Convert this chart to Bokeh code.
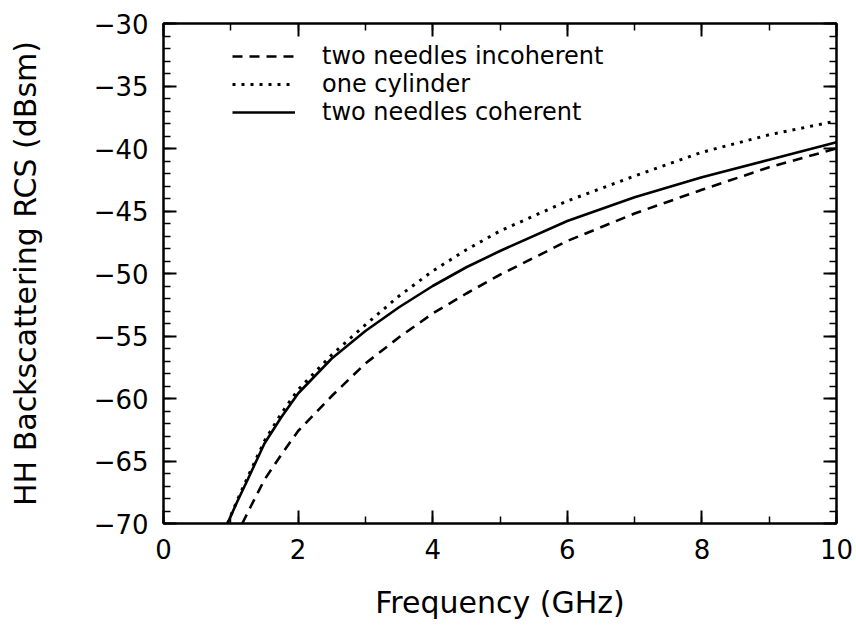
from bokeh.plotting import figure
from bokeh.models import (Range1d, LinearAxis, SingleIntervalTicker,
                          CustomJSTickFormatter, Legend, LegendItem)
from bokeh.embed import file_html
from bokeh.resources import INLINE

# ---- data ----
freq_incoherent = [1.17, 1.3, 1.5, 1.75, 2.0, 2.5, 3.0, 3.5, 4.0, 4.5, 5.0, 6.0, 7.0, 8.0, 9.0, 10.0]
rcs_incoherent = [-70.0, -68.6, -66.5, -64.5, -62.6, -59.8, -57.2, -55.1, -53.2, -51.6, -50.1, -47.4, -45.2, -43.3, -41.5, -40.0]

freq_cylinder = [0.95, 1.1, 1.25, 1.5, 1.75, 2.0, 2.5, 3.0, 3.5, 4.0, 4.5, 5.0, 6.0, 7.0, 8.0, 9.0, 10.0]
rcs_cylinder = [-70.0, -68.1, -66.3, -63.4, -61.2, -59.3, -56.5, -54.1, -51.8, -49.8, -48.1, -46.6, -44.2, -42.2, -40.3, -38.9, -37.8]

freq_coherent = [0.95, 1.1, 1.25, 1.5, 1.75, 2.0, 2.5, 3.0, 3.5, 4.0, 4.5, 5.0, 6.0, 7.0, 8.0, 9.0, 10.0]
rcs_coherent = [-70.0, -68.2, -66.5, -63.6, -61.5, -59.6, -56.8, -54.6, -52.7, -51.0, -49.5, -48.2, -45.8, -43.9, -42.3, -40.9, -39.5]

series_labels = ["two needles incoherent", "one cylinder", "two needles coherent"]
x_title = "Frequency (GHz)"
y_title = "HH Backscattering RCS (dBsm)"

FONT = "DejaVu Sans"

p = figure(width=856, height=627, output_backend="svg", toolbar_location=None,
           x_range=Range1d(0, 10), y_range=Range1d(-70, -30),
           min_border_left=163, min_border_right=20, min_border_top=23,
           min_border_bottom=104, x_axis_location=None, y_axis_location=None)
p.xgrid.visible = False
p.ygrid.visible = False
p.outline_line_color = "black"
p.outline_line_width = 2
p.background_fill_color = "white"
p.border_fill_color = "white"

fmt = CustomJSTickFormatter(code="return tick < 0 ? '\\u2212' + Math.abs(tick) : String(tick);")

def style_axis(ax, labels=True):
    ax.axis_line_color = "black"
    ax.axis_line_width = 2
    ax.major_tick_in = 13
    ax.major_tick_out = 0
    ax.minor_tick_in = 7
    ax.minor_tick_out = 0
    ax.major_tick_line_width = 2
    ax.minor_tick_line_width = 1.5
    ax.major_tick_line_color = "black"
    ax.minor_tick_line_color = "black"
    if labels:
        ax.major_label_text_font = FONT
        ax.major_label_text_font_size = "26px"
        ax.major_label_text_color = "black"
        ax.axis_label_text_font = FONT
        ax.axis_label_text_font_style = "normal"
        ax.axis_label_text_font_size = "30px"
        ax.axis_label_text_color = "black"
    else:
        ax.major_label_text_font_size = "0px"
        ax.major_label_standoff = 0

xb = LinearAxis(ticker=SingleIntervalTicker(interval=2, num_minor_ticks=2),
                formatter=fmt, axis_label=x_title)
style_axis(xb)
xb.major_label_standoff = 15
xb.axis_label_standoff = 23
p.add_layout(xb, "below")

yl = LinearAxis(ticker=SingleIntervalTicker(interval=5, num_minor_ticks=5),
                formatter=fmt, axis_label=y_title)
style_axis(yl)
yl.major_label_standoff = 15
yl.axis_label_standoff = 48
p.add_layout(yl, "left")

xt = LinearAxis(ticker=SingleIntervalTicker(interval=2, num_minor_ticks=2))
style_axis(xt, labels=False)
p.add_layout(xt, "above")

yr = LinearAxis(ticker=SingleIntervalTicker(interval=5, num_minor_ticks=5))
style_axis(yr, labels=False)
p.add_layout(yr, "right")

r_inc = p.line(freq_incoherent, rcs_incoherent, line_color="black", line_width=2.6,
               line_dash="10 7")
r_cyl = p.line(freq_cylinder, rcs_cylinder, line_color="black", line_width=3,
               line_dash="3 6")
r_coh = p.line(freq_coherent, rcs_coherent, line_color="black", line_width=2.6)

# one legend per row so each row can sit where the reference has it
for label, rend, vy in zip(series_labels, [r_inc, r_cyl, r_coh], [453, 425, 397]):
    lg = Legend(items=[LegendItem(label=label, renderers=[rend])],
                location=(69, vy), padding=0, margin=0, spacing=0,
                glyph_width=63, glyph_height=24, label_height=24,
                label_standoff=27, label_text_font=FONT,
                label_text_font_size="24px", label_text_color="black",
                border_line_alpha=0, background_fill_alpha=0)
    p.add_layout(lg, "center")

open("out.html", "w").write(file_html(p, INLINE))
